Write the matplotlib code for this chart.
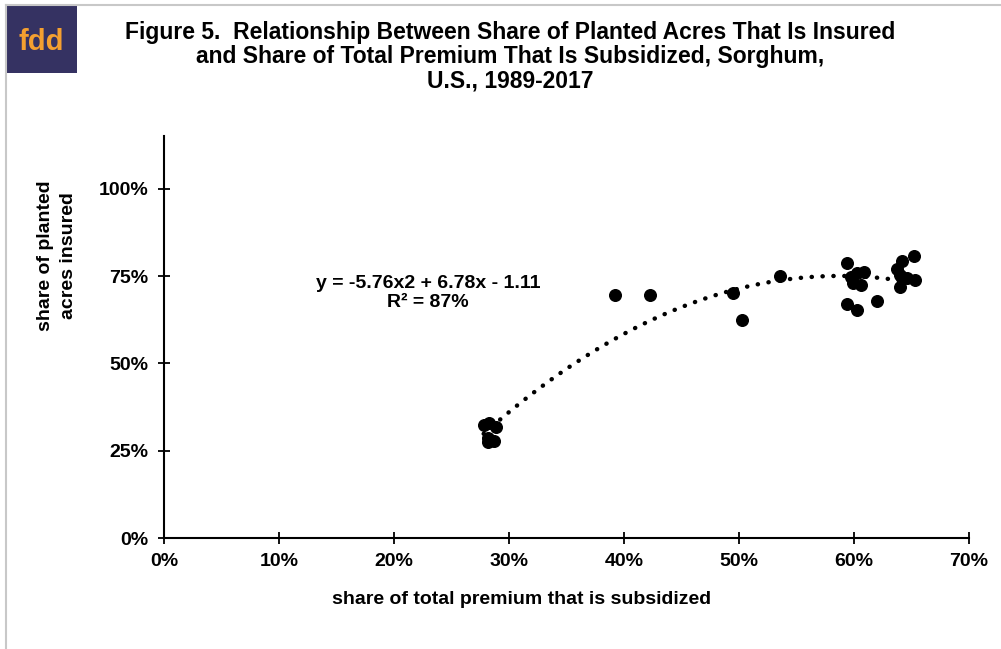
import numpy as np
import matplotlib
matplotlib.use('Agg')
import matplotlib.pyplot as plt
from matplotlib.patches import Rectangle
from matplotlib.ticker import PercentFormatter

plt.rcParams['font.family'] = ['Liberation Sans', 'DejaVu Sans']

# share of total premium subsidized (fraction) and share of planted acres insured
subsidized = [0.278, 0.283, 0.289, 0.282, 0.282, 0.287,
              0.392, 0.423,
              0.495, 0.503, 0.536,
              0.594, 0.597, 0.603, 0.609, 0.599, 0.606, 0.594, 0.603, 0.620,
              0.652, 0.642, 0.637, 0.640, 0.653, 0.646, 0.640]
insured = [0.324, 0.330, 0.318, 0.287, 0.275, 0.278,
           0.696, 0.696,
           0.702, 0.625, 0.751,
           0.788, 0.748, 0.759, 0.762, 0.731, 0.725, 0.670, 0.653, 0.679,
           0.808, 0.794, 0.771, 0.754, 0.739, 0.745, 0.719]

x_ticks = [0, 0.1, 0.2, 0.3, 0.4, 0.5, 0.6, 0.7]
y_ticks = [0, 0.25, 0.5, 0.75, 1.0]

fig = plt.figure(figsize=(10.01, 6.49), dpi=100)
ax = fig.add_axes([0.1638, 0.171, 0.8042, 0.619])

ax.scatter(subsidized, insured, s=70, color='black', zorder=3)

# 2nd order polynomial trend line
coef = np.polyfit(subsidized, insured, 2)
xs = np.linspace(min(subsidized), max(subsidized), 200)
ax.plot(xs, np.polyval(coef, xs), color='black', linewidth=3.2,
        linestyle=(0, (0.05, 2.4)), dash_capstyle='round', zorder=2)

ax.text(0.2296, 0.730, 'y = -5.76x2 + 6.78x - 1.11', ha='center', va='center',
        fontsize=14, fontweight='bold')
ax.text(0.2296, 0.673, 'R² = 87%', ha='center', va='center',
        fontsize=14, fontweight='bold')

ax.set_xlim(0, 0.7)
ax.set_ylim(0, 1.15)
ax.set_xticks(x_ticks)
ax.set_yticks(y_ticks)
ax.xaxis.set_major_formatter(PercentFormatter(1.0, decimals=0))
ax.yaxis.set_major_formatter(PercentFormatter(1.0, decimals=0))
ax.tick_params(direction='inout', length=8, width=1.3, labelsize=14, pad=7)
for lab in ax.get_xticklabels() + ax.get_yticklabels():
    lab.set_fontweight('bold')
ax.spines['top'].set_visible(False)
ax.spines['right'].set_visible(False)
for s in ['left', 'bottom']:
    ax.spines[s].set_linewidth(1.5)
ax.set_xlabel('share of total premium that is subsidized', fontsize=14,
              fontweight='bold')
ax.xaxis.set_label_coords(0.444, -0.133)
ax.set_ylabel('share of planted\nacres insured', fontsize=14,
              fontweight='bold', linespacing=1.45)
ax.yaxis.set_label_coords(-0.108, 0.704)

fig.text(0.51, 0.968, 'Figure 5.  Relationship Between Share of Planted Acres That Is Insured\n'
         'and Share of Total Premium That Is Subsidized, Sorghum,\nU.S., 1989-2017',
         ha='center', va='top', fontsize=16.5, fontweight='bold', linespacing=1.08)

# logo and frame
fig.add_artist(Rectangle((0.005, 0.887), 0.072, 0.106, transform=fig.transFigure,
                         facecolor='#353262', edgecolor='none'))
fig.text(0.041, 0.936, 'fdd', ha='center', va='center', color='#F5A030',
         fontsize=21, fontweight='bold')
fig.add_artist(plt.Line2D([0.006, 0.006], [0.0, 0.993], transform=fig.transFigure,
                          color='#C8C8C8', linewidth=1.5))
fig.add_artist(plt.Line2D([0.006, 1.0], [0.993, 0.993], transform=fig.transFigure,
                          color='#C8C8C8', linewidth=1.5))

fig.savefig('out.png', dpi=100)
